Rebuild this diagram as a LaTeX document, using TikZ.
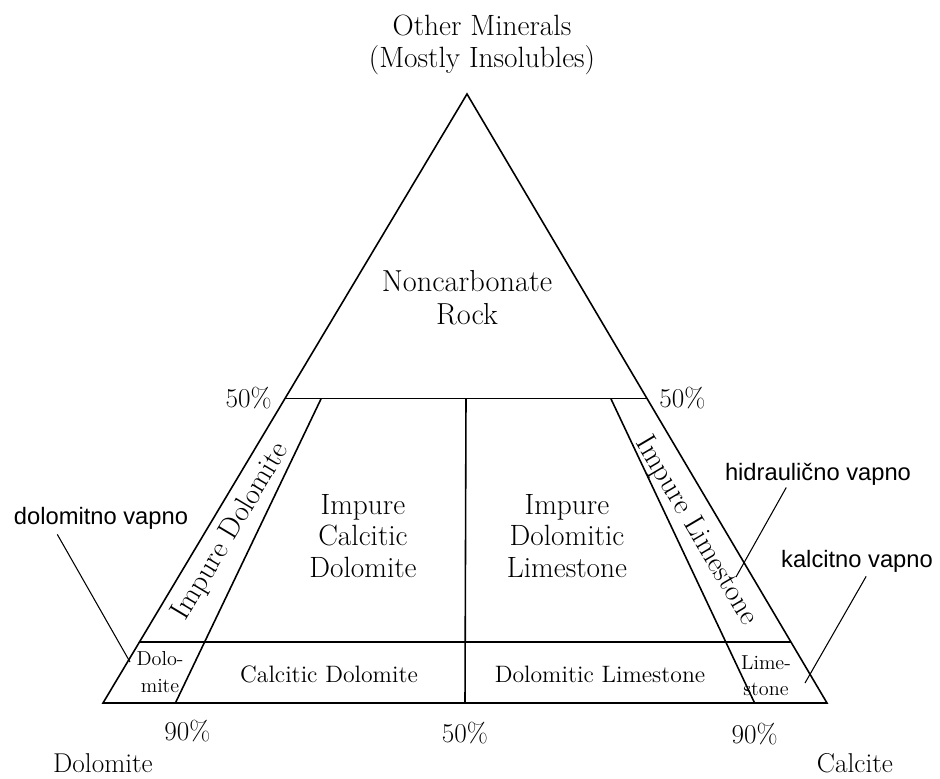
\documentclass[tikz,border=0pt]{standalone}
\usepackage{fontspec}
\newfontfamily\hrfont{Liberation Sans}
\usetikzlibrary{calc,positioning}

\begin{document}
\begin{tikzpicture}[x=0.02cm, y=-0.02cm,
    every node/.style={inner sep=0pt},
    rockline/.style={line width=0.9pt},
    leader/.style={line width=0.6pt},
    field/.style={font=\fontsize{16.7}{18}\selectfont, align=center},
    band/.style={font=\fontsize{13.5}{16}\selectfont},
    smallfield/.style={font=\fontsize{11.5}{15}\selectfont, align=center},
    pct/.style={font=\fontsize{15.5}{18}\selectfont},
    hrlabel/.style={font=\hrfont\fontsize{13.5}{16}\selectfont}
]

\useasboundingbox (0,0) rectangle (940,778);

% corners of the triangle
\coordinate (top) at (467,94);
\coordinate (dol) at (103,703);
\coordinate (cal) at (827,703);

% 50% and 10% levels on the sides
\coordinate (l50) at ($(dol)!0.5!(top)$);
\coordinate (r50) at ($(cal)!0.5!(top)$);
\coordinate (l90) at ($(dol)!0.1!(top)$);
\coordinate (r90) at ($(cal)!0.1!(top)$);

% points on the base and where their rays meet the 50% line
\coordinate (b90l) at ($(dol)!0.1!(cal)$);
\coordinate (b50)  at ($(dol)!0.5!(cal)$);
\coordinate (b90r) at ($(cal)!0.1!(dol)$);
\coordinate (m90l) at ($(b90l)!0.5!(top)$);
\coordinate (m50)  at ($(b50)!0.5!(top)$);
\coordinate (m90r) at ($(b90r)!0.5!(top)$);

\draw[rockline] (top) -- (dol) -- (cal) -- cycle;
\draw[rockline] (l50) -- (r50);
\draw[rockline] (l90) -- (r90);
\draw[rockline] (m90l) -- (b90l);
\draw[rockline] (m50) -- (b50);
\draw[rockline] (m90r) -- (b90r);

% corner names
\node[field, above=0.38cm of top, xshift=0.3cm] (other) {Other Minerals\\(Mostly Insolubles)};
\node[pct, below=1.0cm of dol] (dolname) {Dolomite};
\node[pct, below=1.0cm of cal, xshift=0.56cm] (calname) {Calcite};

% percentages
\node[pct, left=0.26cm of l50] (p50l) {50\%};
\node[pct, right=0.24cm of r50] (p50r) {50\%};
\node[pct, below=0.34cm of b90l, xshift=0.24cm] (p90l) {90\%};
\node[pct, below=0.38cm of b50] (p50b) {50\%};
\node[pct, below=0.40cm of b90r] (p90r) {90\%};

% fields
\node[field, font=\fontsize{17.3}{18.6}\selectfont] (noncarb) at (467,298) {Noncarbonate\\Rock};
\node[field] (impcd) at (363,536) {Impure\\Calcitic\\Dolomite};
\node[field] (impdl) at (567,536) {Impure\\Dolomitic\\Limestone};
\node[field, rotate=59.1] (impdol) at (231,532) {Impure Dolomite};
\node[field, rotate=-59.4] (implim) at (696,531) {Impure Limestone};

\node[band] (caldol) at (329,674) {Calcitic Dolomite};
\node[band] (dollim) at (600,674) {Dolomitic Limestone};
\node[smallfield] (dolo) at (160,672) {Dolo-\\mite};
\node[smallfield] (lime) at (766,676) {Lime-\\stone};

% croatian names with leaders
\node[hrlabel] (dolv) at (101,518) {dolomitno vapno};
\node[hrlabel] (hidv) at (818,474) {hidraulično vapno};
\node[hrlabel] (kalv) at (857,561) {kalcitno vapno};

\coordinate (dolvend) at (130,662);
\coordinate (hidvend) at (736,577);
\coordinate (kalvend) at (805,683);

\draw[leader] ($(dolv.south west)!0.25!(dolv.south east)+(0,5)$) -- (dolvend);
\draw[leader] ($(hidv.south west)!0.33!(hidv.south east)+(0,2)$) -- (hidvend);
\draw[leader] ($(kalv.south west)!0.56!(kalv.south east)+(0,4)$) -- (kalvend);

\end{tikzpicture}
\end{document}
